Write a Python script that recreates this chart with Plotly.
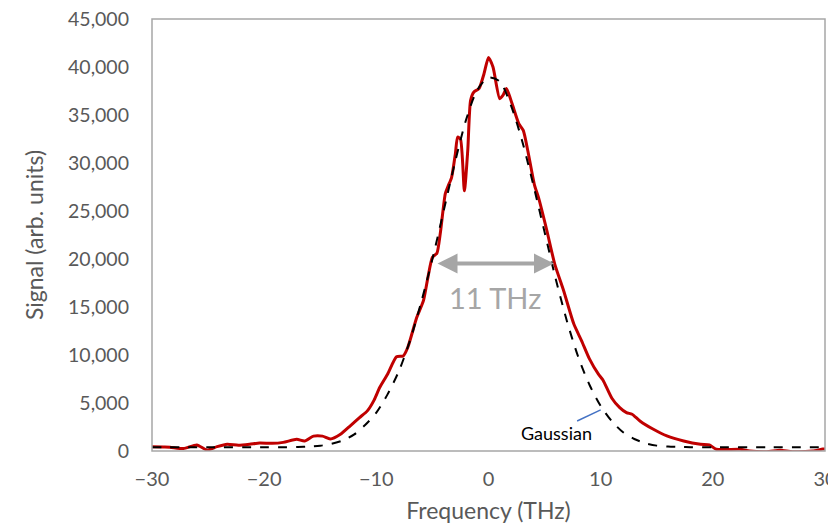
import plotly.graph_objects as go

signal_x = [-30, -29, -28.4, -27.2, -26.0, -25.1, -24.2, -23.3, -22.3, -21.3, -20.4, -19.3, -18.3,
            -17.1, -16.4, -15.6, -14.8, -14.1, -13.2, -12.3, -11.5, -10.8, -10.2, -9.7, -9.0,
            -8.2, -7.6, -7.2, -6.4, -5.8, -5.4, -5.0, -4.6, -4.3, -3.85, -3.6, -3.3, -2.95,
            -2.75, -2.5, -2.15, -1.85, -1.6, -1.3, -0.85, -0.4, 0.0, 0.4, 1.0, 1.3, 1.6, 2.1,
            2.7, 3.1, 3.5, 4.1, 4.45, 5.2, 5.9, 6.7, 7.6, 8.3, 9.0, 9.8, 10.2, 11.0, 11.7,
            12.3, 12.8, 13.5, 14.7, 15.9, 17.4, 18.9, 19.7, 20.3, 22.4, 23.3, 24.8, 26.0,
            27.1, 28.9, 29.8, 30]
signal_y = [450, 420, 400, 250, 630, 100, 450, 700, 600, 700, 840, 800, 900,
            1220, 1040, 1550, 1550, 1250, 1740, 2650, 3480, 4180, 5300, 6610, 8000,
            9810, 9900, 10780, 13900, 15660, 18090, 20180, 20600, 22650, 26820, 27600, 28450, 31000,
            32700, 32500, 27100, 31300, 36500, 37400, 37740, 39300, 41000, 40000, 36700, 37060, 37760, 36190,
            34100, 33400, 31300, 27700, 26440, 22970, 19500, 16700, 13250, 11480, 9600, 8000, 7400, 5500, 4520,
            4000, 3830, 3130, 2260, 1570, 1040, 700, 630, 180, 180, 0, -70, 70,
            -70, 0, 200, 200]

# Gaussian fit curve
gauss_x = [-30, -25, -20, -18, -17, -16, -15, -14, -13, -12, -11, -10, -9, -8, -7, -6, -5, -4, -3,
           -2, -1, 0, 1, 2, 3, 4, 5, 6, 7, 8, 9, 10, 11, 12, 13, 14, 15, 16, 17, 18, 20, 25, 30]
gauss_y = [380, 380, 390, 400, 420, 450, 550, 750, 1100, 1700, 2700, 4000, 5900, 8300, 11500, 15500,
           20000, 25000, 30000, 34500, 37600, 38900, 38500, 36000, 32300, 27700, 22800, 17900, 13500,
           9800, 6900, 4700, 3100, 1950, 1250, 800, 560, 460, 420, 400, 390, 380, 380]

x_ticks = [-30, -20, -10, 0, 10, 20, 30]
y_ticks = [0, 5000, 10000, 15000, 20000, 25000, 30000, 35000, 40000, 45000]
y_tick_text = ["0", "5,000", "10,000", "15,000", "20,000", "25,000", "30,000", "35,000", "40,000", "45,000"]

fwhm_label = "11 THz"
fwhm_left, fwhm_right, fwhm_level = -4.68, 5.84, 19520

FONT = "Lato"
GRAY = "#595959"

fig = go.Figure()
fig.add_trace(go.Scatter(x=signal_x, y=signal_y, mode="lines",
                         line=dict(color="#C00000", width=3, shape="spline", smoothing=0.6),
                         showlegend=False, hoverinfo="skip"))
fig.add_trace(go.Scatter(x=gauss_x, y=gauss_y, mode="lines",
                         line=dict(color="black", width=2, dash="dash", shape="spline", smoothing=0.8),
                         showlegend=False, hoverinfo="skip"))

# double arrow for FWHM
fig.add_annotation(x=fwhm_right, y=fwhm_level, ax=fwhm_left, ay=fwhm_level,
                   xref="x", yref="y", axref="x", ayref="y", text="",
                   showarrow=True, arrowhead=2, arrowside="end+start", arrowsize=1.0,
                   arrowwidth=4, arrowcolor="#a6a6a6")
fig.add_annotation(x=0.58, y=15970, xref="x", yref="y", text=fwhm_label, showarrow=False,
                   font=dict(family=FONT, size=29, color="#a6a6a6"))

# Gaussian label with leader line
fig.add_shape(type="line", x0=7.9, y0=3130, x1=10.0, y1=4280, xref="x", yref="y",
              line=dict(color="#4472C4", width=1.5))
fig.add_annotation(x=6.1, y=1900, xref="x", yref="y", text="Gaussian", showarrow=False,
                   font=dict(family=FONT, size=18, color="black"))

# plot border
fig.add_shape(type="rect", xref="paper", yref="paper", x0=0, y0=0, x1=1, y1=1,
              line=dict(color="#a6a6a6", width=1.5), layer="above")

fig.update_layout(
    width=836, height=525,
    margin=dict(l=144, r=19, t=11, b=82, autoexpand=False),
    paper_bgcolor="white", plot_bgcolor="white",
    font=dict(family=FONT, color=GRAY),
    xaxis=dict(range=[-30, 30], tickvals=x_ticks, showgrid=False, zeroline=False,
               automargin=False,
               ticks="", ticklabelstandoff=14, ticklabeloverflow="allow",
               tickfont=dict(size=20, color=GRAY),
               title=dict(text="Frequency (THz)", font=dict(size=23, color=GRAY), standoff=13)),
    yaxis=dict(range=[0, 45000], tickvals=y_ticks, ticktext=y_tick_text, showgrid=False,
               zeroline=False, ticks="", ticklabelstandoff=22, ticklabeloverflow="allow",
               automargin=False,
               tickfont=dict(size=19.5, color=GRAY),
               title=dict(text="Signal (arb. units)", font=dict(size=23, color=GRAY), standoff=17)),
)

fig.write_html("out.html")
